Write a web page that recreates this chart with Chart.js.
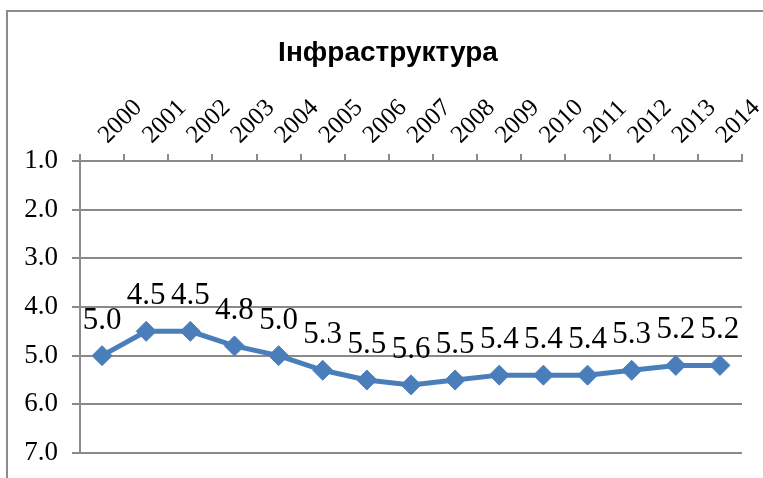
<!DOCTYPE html>
<html>
<head>
<meta charset="utf-8">
<script src="https://cdn.jsdelivr.net/npm/chart.js@4/dist/chart.umd.min.js"></script>
<style>
  body { margin: 0; background: #fff; }
</style>
</head>
<body>
<canvas id="grafico" width="763" height="478"></canvas>
<script>
const titulo = 'Інфраструктура';
const anos = ['2000', '2001', '2002', '2003', '2004', '2005', '2006', '2007', '2008', '2009', '2010', '2011', '2012', '2013', '2014'];
const valores = [5.0, 4.5, 4.5, 4.8, 5.0, 5.3, 5.5, 5.6, 5.5, 5.4, 5.4, 5.4, 5.3, 5.2, 5.2];
const eixoY = [1, 2, 3, 4, 5, 6, 7];

const corLinha = '#4a7ebb';
const corGrade = '#8a8a8a';

// moldura cinza em volta do gráfico
const moldura = {
    id: 'moldura',
    beforeDraw(chart) {
        const c = chart.ctx;
        c.save();
        c.strokeStyle = '#8c8c8c';
        c.lineWidth = 2;
        c.strokeRect(7, 11, 800, 500);
        c.restore();
    }
};

// título desenhado à mão para ficar centralizado como no original
const tituloPlugin = {
    id: 'tituloPlugin',
    afterDraw(chart) {
        const c = chart.ctx;
        c.save();
        c.font = 'bold 28px "Liberation Sans"';
        c.fillStyle = '#000';
        c.textAlign = 'center';
        c.textBaseline = 'alphabetic';
        c.fillText(titulo, 388, 61);
        c.restore();
    }
};

// rótulos dos valores em cima de cada ponto
const rotulos = {
    id: 'rotulos',
    afterDatasetsDraw(chart) {
        const c = chart.ctx;
        const meta = chart.getDatasetMeta(0);
        c.save();
        c.font = '31px "Liberation Serif"';
        c.fillStyle = '#000';
        c.textAlign = 'center';
        c.textBaseline = 'alphabetic';
        meta.data.forEach(function (p, i) {
            c.fillText(valores[i].toFixed(1), p.x, p.y - 27);
        });
        c.restore();
    }
};

new Chart(document.getElementById('grafico'), {
    type: 'line',
    data: {
        labels: anos,
        datasets: [{
            data: valores,
            borderColor: corLinha,
            backgroundColor: corLinha,
            borderWidth: 5,
            pointStyle: 'rectRot',
            pointRadius: 10,
            pointBackgroundColor: corLinha,
            pointBorderColor: corLinha,
            pointBorderWidth: 1,
            tension: 0
        }]
    },
    options: {
        responsive: false,
        animation: false,
        layout: { padding: { top: 68.4, right: 21, bottom: 25, left: 0 } },
        plugins: {
            legend: { display: false },
            tooltip: { enabled: false }
        },
        scales: {
            x: {
                position: 'top',
                offset: true,
                grid: {
                    offset: true,
                    drawOnChartArea: false,
                    tickLength: 7,
                    color: corGrade,
                    lineWidth: 2
                },
                border: { color: corGrade, width: 2 },
                ticks: {
                    color: '#000',
                    font: { family: '"Liberation Serif"', size: 25 },
                    minRotation: 45,
                    maxRotation: 45,
                    autoSkip: false,
                    labelOffset: 22,
                    padding: 4
                },
                afterFit(scale) { scale.height = 92.6; }
            },
            y: {
                reverse: true,
                min: eixoY[0],
                max: eixoY[eixoY.length - 1],
                afterBuildTicks(scale) { scale.ticks = eixoY.map(v => ({ value: v })); },
                grid: { color: corGrade, lineWidth: 2, tickLength: 8 },
                border: { color: corGrade, width: 2 },
                ticks: {
                    color: '#000',
                    font: { family: '"Liberation Serif"', size: 27 },
                    autoSkip: false,
                    padding: 14,
                    callback: v => v.toFixed(1)
                },
                afterFit(scale) {
                    scale.width = 80;
                    // sem folga extra embaixo: quem manda é o padding do layout
                    scale.paddingTop = 0;
                    scale.paddingBottom = 0;
                }
            }
        }
    },
    plugins: [moldura, tituloPlugin, rotulos]
});
</script>
</body>
</html>
